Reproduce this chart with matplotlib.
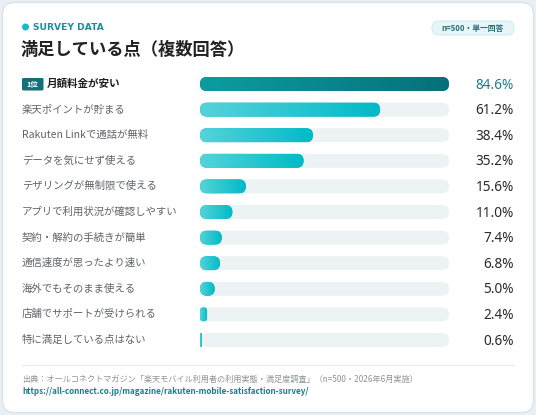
import matplotlib
matplotlib.use("Agg")
import matplotlib.pyplot as plt
import numpy as np
from matplotlib.patches import FancyBboxPatch, Circle
from matplotlib.colors import LinearSegmentedColormap
from matplotlib.transforms import blended_transform_factory

plt.rcParams['font.family'] = ['Noto Sans CJK JP', 'DejaVu Sans']

categories = ["月額料金が安い", "楽天ポイントが貯まる", "Rakuten Linkで通話が無料",
              "データを気にせず使える", "テザリングが無制限で使える",
              "アプリで利用状況が確認しやすい", "契約・解約の手続きが簡単",
              "通信速度が思ったより速い", "海外でもそのまま使える",
              "店舗でサポートが受けられる", "特に満足している点はない"]
values = [84.6, 61.2, 38.4, 35.2, 15.6, 11.0, 7.4, 6.8, 5.0, 2.4, 0.6]
value_labels = ["84.6%", "61.2%", "38.4%", "35.2%", "15.6%", "11.0%", "7.4%",
                "6.8%", "5.0%", "2.4%", "0.6%"]
title = "満足している点（複数回答）"
eyebrow = "SURVEY DATA"
badge = "n=500・単一回答"
rank_badge = "1位"
source = "出典：オールコネクトマガジン「楽天モバイル利用者の利用実態・満足度調査」（n=500・2026年6月実施）"
url = "https://all-connect.co.jp/magazine/rakuten-mobile-satisfaction-survey/"

W, H = 536, 415
fig = plt.figure(figsize=(W / 100, H / 100), dpi=100)
fig.patch.set_facecolor("#e9eff2")

bg = fig.add_axes([0, 0, 1, 1], zorder=0)
bg.set_xlim(0, W)
bg.set_ylim(H, 0)
bg.axis("off")

card = FancyBboxPatch((2.5, 2.5), W - 5, H - 5,
                      boxstyle="round,pad=0,rounding_size=12",
                      facecolor="white", edgecolor="#d9e3e8", linewidth=1.0)
bg.add_patch(card)

# header
bg.add_patch(Circle((25.5, 27), 2.8, color="#19b8c4"))
bg.text(33, 27.5, eyebrow, fontsize=6.6, fontweight="bold", color="#1a8f9a",
        va="center", ha="left", fontfamily=["DejaVu Sans"])
bg.text(21, 50, title, fontsize=12.4, fontweight="bold", color="#222222",
        va="center", ha="left")
pill = FancyBboxPatch((432, 21), 82, 14, boxstyle="round,pad=0,rounding_size=7",
                      facecolor="#e6f6f8", edgecolor="#d3eef1", linewidth=0.8)
bg.add_patch(pill)
bg.text(473, 28.2, badge, fontsize=5.6, fontweight="bold", color="#2c6e76",
        va="center", ha="center")

# footer
bg.plot([22, 514], [365, 365], color="#e6ecef", linewidth=0.9)
bg.text(22, 379, source, fontsize=5.9, color="#8c9499", va="center", ha="left")
bg.text(22, 391.5, url, fontsize=5.8, fontweight="bold", color="#137f8a",
        va="center", ha="left", fontfamily=["Noto Sans CJK JP", "DejaVu Sans"])

# bars axes
n = len(values)
row_px = 25.6
top_px = 84 - row_px / 2
left_px, right_px = 200, 449
ax_h = row_px * n
ax = fig.add_axes([left_px / W, 1 - (top_px + ax_h) / H,
                   (right_px - left_px) / W, ax_h / H], zorder=1)
ax.patch.set_alpha(0)
ax.axis("off")
vmax = max(values)
ax.set_xlim(0, vmax)
ax.set_ylim(n - 0.5, -0.5)

x_per_px = vmax / (right_px - left_px)
y_per_px = 1 / row_px
aspect = y_per_px / x_per_px
bar_h = 14 * y_per_px
r_full = 7 * x_per_px

cmap_top = LinearSegmentedColormap.from_list("top", ["#0c9da1", "#05707a"])
cmap_rest = LinearSegmentedColormap.from_list("rest", ["#55d3da", "#00bac6"])
grad = np.linspace(0, 1, 256).reshape(1, -1)

trans_lbl = blended_transform_factory(fig.transFigure, ax.transData)

for i, (cat, v, lab) in enumerate(zip(categories, values, value_labels)):
    y0 = i - bar_h / 2
    track = FancyBboxPatch((0, y0), vmax, bar_h,
                           boxstyle="round,pad=0,rounding_size=%f" % r_full,
                           mutation_aspect=aspect, facecolor="#edf2f5",
                           edgecolor="none", zorder=1)
    ax.add_patch(track)
    r = min(r_full, v / 2)
    bar = FancyBboxPatch((0, y0), v, bar_h,
                         boxstyle="round,pad=0,rounding_size=%f" % r,
                         mutation_aspect=aspect,
                         facecolor="#05707a" if i == 0 else "#00bac6",
                         edgecolor="none", zorder=2)
    ax.add_patch(bar)
    im = ax.imshow(grad, extent=[0, v, i + bar_h / 2, i - bar_h / 2],
                   aspect="auto", cmap=cmap_top if i == 0 else cmap_rest,
                   interpolation="bilinear", zorder=3)
    im.set_clip_path(bar)

    if i == 0:
        bg.add_patch(FancyBboxPatch((22, 78), 21.5, 12.5,
                                    boxstyle="round,pad=0,rounding_size=1.5",
                                    facecolor="#136f78", edgecolor="none", zorder=2))
        bg.text(32.8, 84.4, rank_badge, fontsize=5.4, fontweight="bold",
                color="white", va="center", ha="center", zorder=3)
        ax.text(47 / W, i, cat, transform=trans_lbl, fontsize=7.6,
                fontweight="bold", color="#1e1e1e", va="center", ha="left")
        vcol = "#1a7d88"
    else:
        ax.text(22 / W, i, cat, transform=trans_lbl, fontsize=7.5,
                color="#5f6468", va="center", ha="left")
        vcol = "#2a2a2a"
    ax.text(514 / W, i + 0.04, lab, transform=trans_lbl, fontsize=9.8,
            color=vcol, va="center", ha="right",
            fontfamily=["Noto Sans", "DejaVu Sans"], fontweight="normal")

ax.set_xlim(0, vmax)
ax.set_ylim(n - 0.5, -0.5)

fig.savefig("out.png", dpi=100, facecolor=fig.get_facecolor())
